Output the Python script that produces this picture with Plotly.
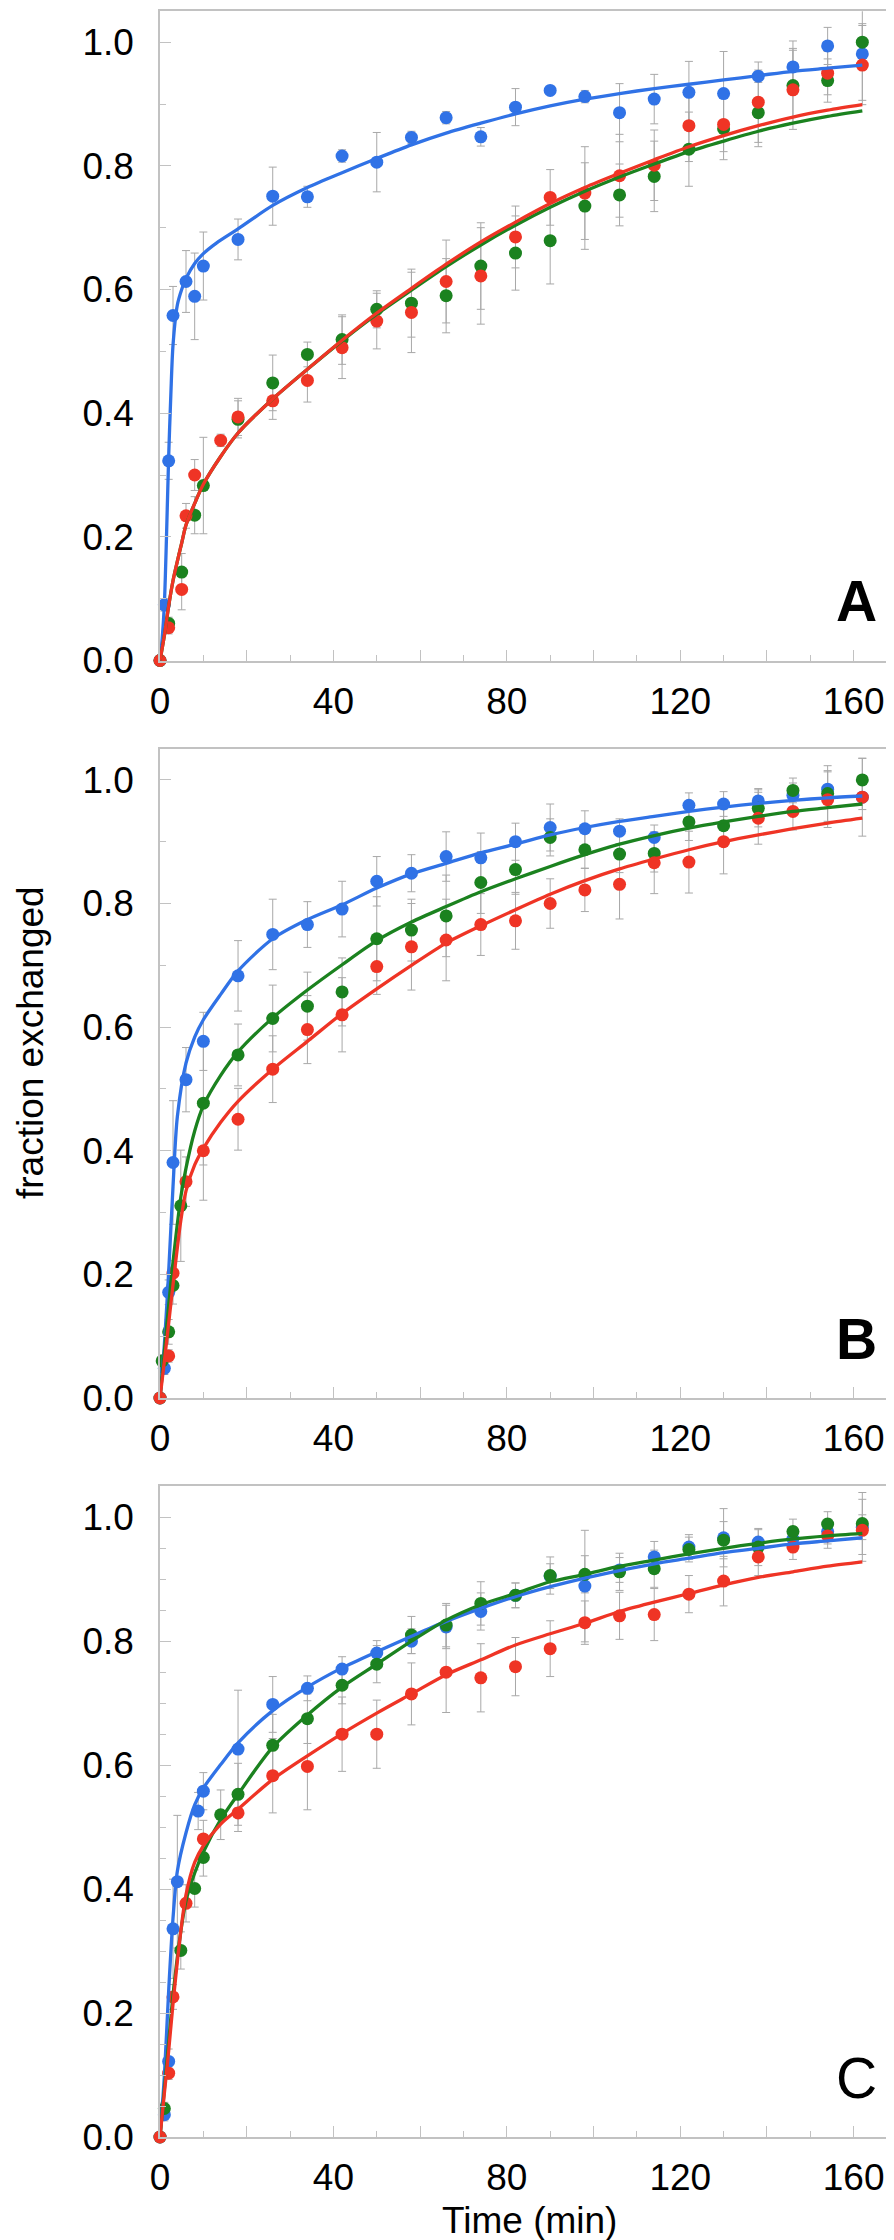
import plotly.graph_objects as go

# ---------------- data ----------------
# Panel A
a_blue_x = [0, 1, 2, 3, 6, 8, 10, 18, 26, 34, 42, 50, 58, 66, 74, 82, 90, 98, 106, 114, 122, 130, 138, 146, 154, 162]
a_blue_y = [0, 0.09, 0.323, 0.558, 0.613, 0.589, 0.638, 0.681, 0.751, 0.750, 0.816, 0.806, 0.846, 0.878, 0.847, 0.895, 0.922, 0.912, 0.886, 0.908, 0.919, 0.917, 0.945, 0.960, 0.994, 0.981]
a_blue_e = [0, 0.01, 0.03, 0.047, 0.05, 0.07, 0.055, 0.033, 0.047, 0.017, 0.01, 0.048, 0.01, 0.01, 0.015, 0.03, 0.005, 0.01, 0.047, 0.04, 0.05, 0.068, 0.01, 0.042, 0.03, 0.075]
a_green_x = [0, 2, 5, 8, 10, 18, 26, 34, 42, 50, 58, 66, 74, 82, 90, 98, 106, 114, 122, 130, 138, 146, 154, 162]
a_green_y = [0, 0.06, 0.143, 0.235, 0.283, 0.39, 0.449, 0.495, 0.519, 0.568, 0.578, 0.590, 0.638, 0.659, 0.679, 0.735, 0.753, 0.783, 0.827, 0.86, 0.886, 0.930, 0.938, 1.0]
a_green_e = [0, 0.01, 0.03, 0.03, 0.078, 0.03, 0.045, 0.02, 0.04, 0.03, 0.055, 0.06, 0.07, 0.06, 0.07, 0.07, 0.05, 0.057, 0.06, 0.05, 0.055, 0.06, 0.035, 0.03]
a_red_x = [0, 2, 5, 6, 8, 14, 18, 26, 34, 42, 50, 58, 66, 74, 82, 90, 98, 106, 114, 122, 130, 138, 146, 154, 162]
a_red_y = [0, 0.053, 0.115, 0.234, 0.30, 0.356, 0.394, 0.42, 0.453, 0.506, 0.549, 0.563, 0.613, 0.622, 0.685, 0.749, 0.756, 0.784, 0.801, 0.865, 0.867, 0.903, 0.923, 0.950, 0.963]
a_red_e = [0, 0.01, 0.033, 0.02, 0.025, 0.01, 0.03, 0.03, 0.035, 0.05, 0.045, 0.065, 0.067, 0.078, 0.05, 0.045, 0.075, 0.067, 0.057, 0.058, 0.044, 0.065, 0.064, 0.035, 0.064]

# fitted curves, panel A
a_fit_blue_x = [0, 0.5, 1, 1.5, 2, 2.5, 3, 4, 5, 6, 8, 10, 13, 18, 26, 34, 42, 50, 58, 66, 74, 82, 90, 98, 106, 114, 122, 130, 138, 146, 154, 162]
a_fit_blue_y = [0, 0.035, 0.09, 0.2, 0.33, 0.43, 0.51, 0.575, 0.60, 0.618, 0.642, 0.658, 0.675, 0.698, 0.736, 0.765, 0.789, 0.812, 0.834, 0.853, 0.869, 0.884, 0.897, 0.908, 0.917, 0.925, 0.932, 0.939, 0.946, 0.953, 0.958, 0.963]
a_fit_red_x = [0, 1, 2, 3, 5, 6, 8, 10, 14, 18, 26, 34, 42, 50, 58, 66, 74, 82, 90, 98, 106, 114, 122, 130, 138, 146, 154, 162]
a_fit_red_y = [0, 0.04, 0.088, 0.129, 0.19, 0.219, 0.254, 0.285, 0.33, 0.368, 0.423, 0.471, 0.518, 0.562, 0.602, 0.641, 0.677, 0.709, 0.739, 0.765, 0.788, 0.81, 0.831, 0.849, 0.865, 0.879, 0.89, 0.899]
a_fit_green_y = [0, 0.04, 0.088, 0.129, 0.19, 0.219, 0.254, 0.285, 0.33, 0.368, 0.423, 0.471, 0.517, 0.56, 0.599, 0.637, 0.672, 0.704, 0.733, 0.759, 0.782, 0.803, 0.823, 0.84, 0.856, 0.869, 0.88, 0.889]

# Panel B
b_blue_x = [0, 1, 2, 3, 6, 10, 18, 26, 34, 42, 50, 58, 66, 74, 82, 90, 98, 106, 114, 122, 130, 138, 146, 154, 162]
b_blue_y = [0, 0.048, 0.171, 0.381, 0.515, 0.577, 0.683, 0.750, 0.766, 0.791, 0.836, 0.849, 0.876, 0.874, 0.900, 0.923, 0.921, 0.917, 0.907, 0.959, 0.961, 0.966, 0.975, 0.985, 0.972]
b_blue_e = [0, 0.01, 0.02, 0.1, 0.052, 0.047, 0.057, 0.057, 0.037, 0.045, 0.04, 0.03, 0.04, 0.04, 0.03, 0.038, 0.029, 0.02, 0.02, 0.02, 0.02, 0.02, 0.02, 0.03, 0.02]
b_green_x = [0, 0.5, 2, 3, 4.8, 10, 18, 26, 34, 42, 50, 58, 66, 74, 82, 90, 98, 106, 114, 122, 130, 138, 146, 154, 162]
b_green_y = [0, 0.06, 0.107, 0.182, 0.311, 0.477, 0.555, 0.614, 0.634, 0.657, 0.743, 0.757, 0.780, 0.834, 0.855, 0.907, 0.887, 0.880, 0.881, 0.932, 0.926, 0.954, 0.983, 0.978, 1.0]
b_green_e = [0, 0.01, 0.02, 0.03, 0.09, 0.1, 0.05, 0.054, 0.055, 0.055, 0.068, 0.05, 0.066, 0.05, 0.04, 0.03, 0.03, 0.03, 0.03, 0.03, 0.03, 0.03, 0.02, 0.045, 0.035]
b_red_x = [0, 2, 3, 6, 10, 18, 26, 34, 42, 50, 58, 66, 74, 82, 90, 98, 106, 114, 122, 130, 138, 146, 154, 162]
b_red_y = [0, 0.068, 0.202, 0.350, 0.400, 0.451, 0.532, 0.596, 0.620, 0.698, 0.730, 0.741, 0.766, 0.772, 0.800, 0.822, 0.831, 0.866, 0.867, 0.900, 0.938, 0.949, 0.968, 0.972]
b_red_e = [0, 0.01, 0.02, 0.04, 0.08, 0.05, 0.054, 0.055, 0.06, 0.045, 0.07, 0.066, 0.05, 0.046, 0.04, 0.035, 0.056, 0.05, 0.05, 0.052, 0.042, 0.03, 0.045, 0.063]

b_fit_blue_x = [0, 1, 2, 3, 4, 6, 8, 10, 14, 18, 26, 34, 42, 50, 58, 66, 74, 82, 90, 98, 106, 114, 122, 130, 138, 146, 154, 162]
b_fit_blue_y = [0, 0.086, 0.204, 0.342, 0.455, 0.542, 0.584, 0.612, 0.653, 0.691, 0.743, 0.774, 0.798, 0.825, 0.848, 0.865, 0.882, 0.896, 0.911, 0.923, 0.933, 0.941, 0.949, 0.956, 0.962, 0.967, 0.971, 0.974]
b_fit_green_x = [0, 1, 2, 3, 4.8, 6, 8, 10, 14, 18, 26, 34, 42, 50, 58, 66, 74, 82, 90, 98, 106, 114, 122, 130, 138, 146, 154, 162]
b_fit_green_y = [0, 0.075, 0.15, 0.22, 0.325, 0.372, 0.432, 0.473, 0.522, 0.56, 0.615, 0.66, 0.701, 0.74, 0.77, 0.795, 0.819, 0.84, 0.86, 0.879, 0.896, 0.91, 0.922, 0.932, 0.941, 0.949, 0.955, 0.961]
b_fit_red_y = [0, 0.059, 0.121, 0.183, 0.287, 0.335, 0.377, 0.404, 0.446, 0.48, 0.532, 0.577, 0.622, 0.662, 0.70, 0.736, 0.764, 0.79, 0.815, 0.837, 0.856, 0.872, 0.887, 0.9, 0.911, 0.921, 0.93, 0.938]

# Panel C
c_blue_x = [0, 1, 2, 3, 4, 8.8, 10, 18, 26, 34, 42, 50, 58, 66, 74, 82, 90, 98, 106, 114, 122, 130, 138, 146, 154, 162]
c_blue_y = [0, 0.036, 0.122, 0.336, 0.412, 0.526, 0.558, 0.626, 0.698, 0.724, 0.755, 0.781, 0.80, 0.823, 0.848, 0.874, 0.905, 0.889, 0.915, 0.936, 0.952, 0.967, 0.96, 0.965, 0.977, 0.984]
c_blue_e = [0, 0.01, 0.02, 0.08, 0.107, 0.03, 0.03, 0.095, 0.045, 0.02, 0.02, 0.02, 0.02, 0.035, 0.03, 0.02, 0.02, 0.09, 0.02, 0.025, 0.02, 0.047, 0.02, 0.02, 0.02, 0.02]
c_green_x = [0, 1, 4.8, 8, 10, 14, 18, 26, 34, 42, 50, 58, 66, 74, 82, 90, 98, 106, 114, 122, 130, 138, 146, 154, 162]
c_green_y = [0, 0.046, 0.301, 0.401, 0.451, 0.52, 0.553, 0.632, 0.675, 0.729, 0.763, 0.81, 0.826, 0.861, 0.874, 0.906, 0.908, 0.912, 0.917, 0.948, 0.963, 0.952, 0.977, 0.989, 0.99]
c_green_e = [0, 0.01, 0.03, 0.03, 0.03, 0.04, 0.05, 0.05, 0.04, 0.03, 0.03, 0.03, 0.035, 0.035, 0.02, 0.03, 0.03, 0.03, 0.03, 0.02, 0.03, 0.03, 0.02, 0.02, 0.05]
c_red_x = [0, 2, 3, 6, 10, 18, 26, 34, 42, 50, 58, 66, 74, 82, 90, 98, 106, 114, 122, 130, 138, 146, 154, 162]
c_red_y = [0, 0.103, 0.226, 0.377, 0.481, 0.523, 0.583, 0.598, 0.65, 0.65, 0.715, 0.75, 0.741, 0.759, 0.788, 0.830, 0.841, 0.843, 0.876, 0.897, 0.936, 0.952, 0.970, 0.979]
c_red_e = [0, 0.01, 0.02, 0.03, 0.03, 0.03, 0.06, 0.07, 0.06, 0.055, 0.05, 0.065, 0.055, 0.047, 0.045, 0.035, 0.038, 0.042, 0.03, 0.04, 0.03, 0.02, 0.02, 0.05]

c_fit_blue_x = [0, 1, 2, 3, 4, 6, 8, 10, 14, 18, 26, 34, 42, 50, 58, 66, 74, 82, 90, 98, 106, 114, 122, 130, 138, 146, 154, 162]
c_fit_blue_y = [0, 0.098, 0.236, 0.353, 0.429, 0.491, 0.536, 0.563, 0.601, 0.636, 0.688, 0.726, 0.757, 0.783, 0.808, 0.832, 0.853, 0.872, 0.888, 0.902, 0.914, 0.925, 0.934, 0.943, 0.95, 0.957, 0.962, 0.967]
c_fit_gr_x = [0, 1, 2, 3, 4.8, 6, 8, 10, 14, 18, 26, 34, 42, 50, 58, 66, 74, 82, 90, 98, 106, 114, 122, 130, 138, 146, 154, 162]
c_fit_green_y = [0, 0.077, 0.153, 0.229, 0.332, 0.381, 0.426, 0.46, 0.512, 0.553, 0.629, 0.681, 0.726, 0.763, 0.80, 0.834, 0.859, 0.877, 0.896, 0.908, 0.921, 0.931, 0.941, 0.95, 0.958, 0.965, 0.97, 0.974]
c_fit_red_y = [0, 0.07, 0.139, 0.215, 0.332, 0.391, 0.443, 0.47, 0.505, 0.529, 0.577, 0.615, 0.651, 0.684, 0.715, 0.746, 0.77, 0.794, 0.812, 0.829, 0.848, 0.863, 0.877, 0.891, 0.903, 0.912, 0.921, 0.928]

x_tickvals = [0, 20, 40, 60, 80, 100, 120, 140, 160]
x_ticktext = ["0", "", "40", "", "80", "", "120", "", "160"]
y_tickvals = [0, 0.2, 0.4, 0.6, 0.8, 1.0]
y_ticktext = ["0.0", "0.2", "0.4", "0.6", "0.8", "1.0"]
panel_labels = ["A", "B", "C"]

# ---------------- style ----------------
BLUE = "#3072e6"
GREEN = "#1b821f"
RED = "#ef3425"
ERR = "#a8a8a8"
AXC = "#c2c2c2"
FONT = "Liberation Sans, Arial, Helvetica, sans-serif"

W, H = 894, 2240
ML, MR, MT, MB = 152, 5, 3, 111
PH = H - MT - MB
PW = W - ML - MR
# panel pixel extents (top, bottom)
panels_px = [(3.3, 652.5), (741, 1390), (1478.3, 2129)]


def dom(top, bot):
    return [max(0, (H - MB - bot) / PH), min(1, (H - MB - top) / PH)]


fig = go.Figure()

panels = [
    dict(pts=[(a_blue_x, a_blue_y, a_blue_e, BLUE), (a_green_x, a_green_y, a_green_e, GREEN), (a_red_x, a_red_y, a_red_e, RED)],
         fits=[(a_fit_blue_x, a_fit_blue_y, BLUE), (a_fit_red_x, a_fit_green_y, GREEN), (a_fit_red_x, a_fit_red_y, RED)],
         minor=0.1),
    dict(pts=[(b_blue_x, b_blue_y, b_blue_e, BLUE), (b_green_x, b_green_y, b_green_e, GREEN), (b_red_x, b_red_y, b_red_e, RED)],
         fits=[(b_fit_blue_x, b_fit_blue_y, BLUE), (b_fit_green_x, b_fit_green_y, GREEN), (b_fit_green_x, b_fit_red_y, RED)],
         minor=0.1),
    dict(pts=[(c_blue_x, c_blue_y, c_blue_e, BLUE), (c_green_x, c_green_y, c_green_e, GREEN), (c_red_x, c_red_y, c_red_e, RED)],
         fits=[(c_fit_blue_x, c_fit_blue_y, BLUE), (c_fit_gr_x, c_fit_green_y, GREEN), (c_fit_gr_x, c_fit_red_y, RED)],
         minor=0.05),
]

layout = dict(
    width=W, height=H,
    margin=dict(l=ML, r=MR, t=MT, b=MB),
    paper_bgcolor="white", plot_bgcolor="white",
    showlegend=False,
    font=dict(family=FONT, size=37, color="black"),
)

annotations = []
for i, p in enumerate(panels):
    k = "" if i == 0 else str(i + 1)
    xa, ya = "x" + k, "y" + k
    # error bars first (beneath every marker)
    for (xs, ys, es, c) in p["pts"]:
        fig.add_trace(go.Scatter(
            x=xs, y=ys, mode="markers", xaxis=xa, yaxis=ya,
            marker=dict(color=c, size=13, opacity=0),
            error_y=dict(type="data", array=es, visible=True, color=ERR, thickness=1, width=4),
            cliponaxis=False, hoverinfo="skip"))
    for (xs, ys, es, c) in p["pts"]:
        fig.add_trace(go.Scatter(
            x=xs, y=ys, mode="markers", xaxis=xa, yaxis=ya,
            marker=dict(color=c, size=13, line=dict(width=0)),
            cliponaxis=False, hoverinfo="skip"))
    for (xs, ys, c) in p["fits"]:
        fig.add_trace(go.Scatter(
            x=xs, y=ys, mode="lines", xaxis=xa, yaxis=ya,
            line=dict(color=c, width=3.3, shape="spline", smoothing=0.8),
            hoverinfo="skip"))
    top, bot = panels_px[i]
    layout["xaxis" + k] = dict(
        domain=[0, 1], anchor=ya, range=[0, 170],
        tickmode="array", tickvals=x_tickvals, ticktext=x_ticktext,
        ticks="inside", ticklen=11, tickwidth=1.3, tickcolor=AXC,
        minor=dict(dtick=10, tick0=0, ticks="inside", ticklen=6, tickwidth=1.3, tickcolor=AXC),
        showline=True, mirror=True, linecolor=AXC, linewidth=1.5,
        showgrid=False, zeroline=False,
        tickfont=dict(family=FONT, size=37, color="black"),
        ticklabelstandoff=7,
    )
    layout["yaxis" + k] = dict(
        domain=dom(top, bot), anchor=xa, range=[0, 1.05],
        tickmode="array", tickvals=y_tickvals, ticktext=y_ticktext,
        ticks="inside", ticklen=11, tickwidth=1.3, tickcolor=AXC,
        minor=dict(dtick=p["minor"], tick0=0, ticks="inside", ticklen=6, tickwidth=1.3, tickcolor=AXC),
        showline=True, mirror=True, linecolor=AXC, linewidth=1.5,
        showgrid=False, zeroline=False,
        tickfont=dict(family=FONT, size=37, color="black"),
        ticklabelstandoff=17,
    )
    annotations.append(dict(
        text=panel_labels[i], xref=xa + " domain", yref=ya + " domain",
        x=0.945, y=0.091, xanchor="center", yanchor="middle", showarrow=False,
        font=dict(family=FONT, size=57, color="black", weight=("normal" if i == 2 else "bold"))))

annotations.append(dict(
    text="fraction exchanged", xref="paper", yref="paper",
    x=(22 - ML) / PW, y=(H - MB - 1035) / PH, xanchor="center", yanchor="middle",
    textangle=-90, showarrow=False, font=dict(family=FONT, size=37, color="black")))
annotations.append(dict(
    text="Time (min)", xref="paper", yref="paper",
    x=(521 - ML) / PW, y=(H - MB - 2212) / PH, xanchor="center", yanchor="middle",
    showarrow=False, font=dict(family=FONT, size=37, color="black")))
layout["annotations"] = annotations

fig.update_layout(**layout)
fig.write_html("out.html")
